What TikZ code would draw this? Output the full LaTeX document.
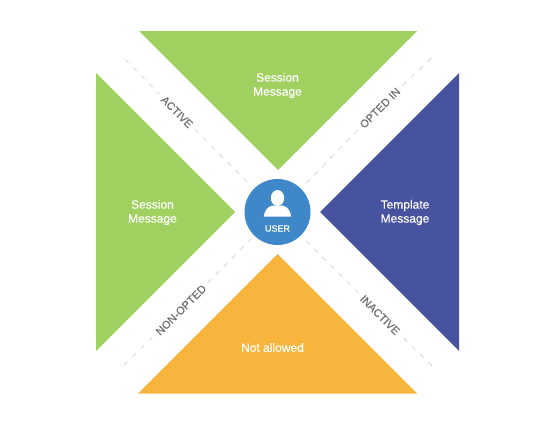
\documentclass[tikz,border=0pt]{standalone}
\usepackage{fontspec}
\setmainfont{Liberation Sans}
\newfontfamily\medfont[FakeBold=0.25]{Liberation Sans}
\definecolor{cgreen}{HTML}{A0D160}
\definecolor{cblue}{HTML}{47539F}
\definecolor{corange}{HTML}{F8B53D}
\definecolor{cuser}{HTML}{3E88C9}
\definecolor{cdash}{HTML}{D6D6D6}
\definecolor{clabel}{HTML}{6E6E6E}
\tikzset{
  seclabel/.style={text=white,font=\medfont\fontsize{12}{14}\selectfont,align=center,inner sep=0pt},
  linklabel/.style={text=clabel,font=\medfont\fontsize{11}{13}\selectfont,inner sep=5pt},
  link/.style={draw=cdash,line width=0.8pt,dash pattern=on 5pt off 6.5pt},
}
\begin{document}
\begin{tikzpicture}[x=1pt,y=-1pt]
\useasboundingbox (0,0) rectangle (555,423);
\fill[cgreen] (139,31) -- (417,31) -- (278,170) -- cycle;
\fill[cgreen] (96,73) -- (96,351) -- (235,212) -- cycle;
\fill[cblue] (459,73) -- (459,351) -- (320,212) -- cycle;
\fill[corange] (138,393.5) -- (417,393.5) -- (277.5,254) -- cycle;
\node[seclabel] (top) at (277.5,85.5) {Session\\Message};
\node[seclabel] (left) at (152.5,212.5) {Session\\Message};
\node[seclabel] (right) at (405,212.5) {Template\\Message};
\node[seclabel] (bottom) at (272.5,347.5) {Not allowed};
\node[circle,fill=cuser,minimum size=66pt,inner sep=0pt] (user) at (277.5,212) {};
\fill[white] (277.5,198) ellipse (6.7pt and 8pt);
\fill[white] (263.7,216.7) .. controls (265,210) and (267,207.5) .. (272,205.5) -- (283,205.5) .. controls (288,207.5) and (290,210) .. (291.3,216.7) -- cycle;
\node[text=white,font=\medfont\fontsize{9}{11}\selectfont,inner sep=0pt] (ulabel) at (277.5,228.5) {USER};
\coordinate (tl) at (125,59);
\coordinate (tr) at (431,58);
\coordinate (bl) at (124,365);
\coordinate (br) at (432,366);
\node[linklabel,rotate=-45] (active) at (177,112) {ACTIVE};
\node[linklabel,rotate=45] (optin) at (380,108) {OPTED IN};
\node[linklabel,rotate=45] (nonopt) at (181,310) {NON-OPTED};
\node[linklabel,rotate=-45] (inact) at (380,315) {INACTIVE};
\draw[link] (tl) -- (active);
\draw[link,shorten >=4pt] (active) -- (user);
\draw[link] (tr) -- (optin);
\draw[link,shorten >=4pt] (optin) -- (user);
\draw[link] (bl) -- (nonopt);
\draw[link,shorten >=4pt] (nonopt) -- (user);
\draw[link] (br) -- (inact);
\draw[link,shorten >=4pt] (inact) -- (user);
\end{tikzpicture}
\end{document}
